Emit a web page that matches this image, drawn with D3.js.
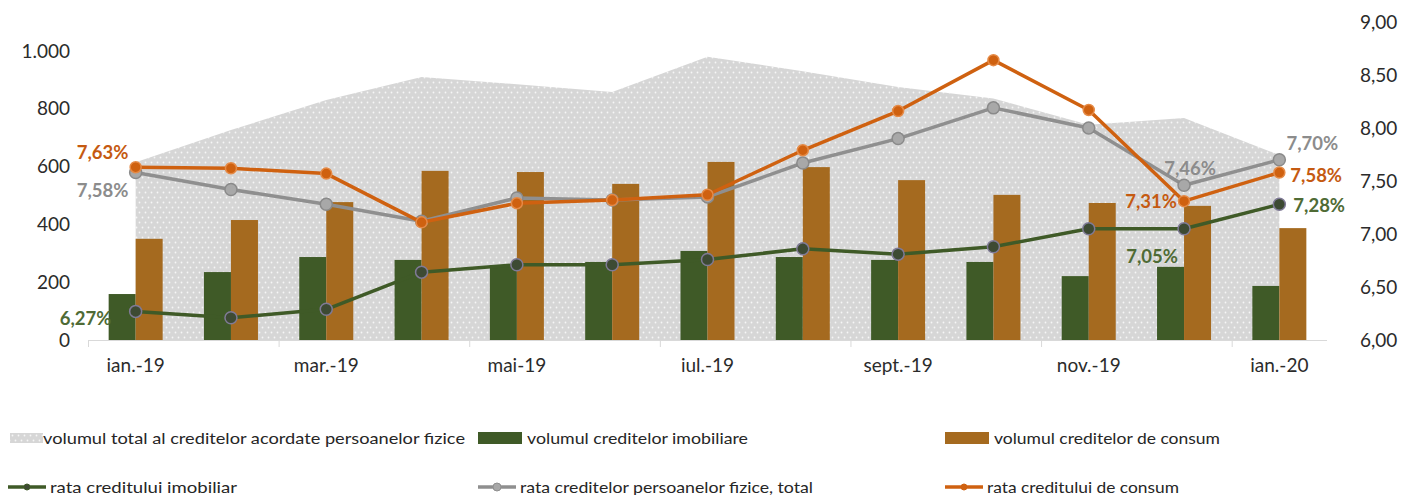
<!DOCTYPE html>
<html>
<head>
<meta charset="utf-8">
<script src="https://cdn.jsdelivr.net/npm/d3@7"></script>
<style>
  body { margin: 0; background: #fff; }
  svg { font-family: Lato, "Open Sans", sans-serif; }
</style>
</head>
<body>
<div id="chart"></div>
<script>
// luni (categorii)
const months = ["ian.-19","feb.-19","mar.-19","apr.-19","mai-19","iun.-19","iul.-19",
                "aug.-19","sept.-19","oct.-19","nov.-19","dec.-19","ian.-20"];

// volume (axa stanga)
const totalVolume    = [615, 726, 830, 910, 885, 858, 980, 930, 875, 835, 745, 768, 640];
const mortgageVolume = [159, 235, 287, 277, 258, 270, 308, 287, 277, 270, 221, 253, 187];
const consumerVolume = [350, 415, 477, 585, 581, 540, 616, 598, 553, 502, 474, 464, 387];

// rate (axa dreapta)
const mortgageRate = [6.27, 6.21, 6.29, 6.64, 6.71, 6.71, 6.76, 6.86, 6.81, 6.88, 7.05, 7.05, 7.28];
const totalRate    = [7.58, 7.42, 7.28, 7.12, 7.34, 7.32, 7.35, 7.67, 7.90, 8.19, 8.00, 7.46, 7.70];
const consumerRate = [7.63, 7.62, 7.57, 7.11, 7.29, 7.32, 7.37, 7.79, 8.16, 8.64, 8.17, 7.31, 7.58];

const leftTicks  = [0, 200, 400, 600, 800, 1000];
const rightTicks = [6, 6.5, 7, 7.5, 8, 8.5, 9];

// etichete de date: serie + index
const dataLabels = [
  {series: "consumer", i: 0},
  {series: "total", i: 0},
  {series: "mortgage", i: 0},
  {series: "total", i: 11},
  {series: "consumer", i: 11},
  {series: "mortgage", i: 11},
  {series: "total", i: 12},
  {series: "consumer", i: 12},
  {series: "mortgage", i: 12}
];

const width = 1409;
const height = 495;

const green = "#3f5a27";
const brown = "#a56a1f";
const orange = "#cf6110";
const grey = "#8f8f8f";

const ro = d3.formatLocale({decimal: ",", thousands: ".", grouping: [3], currency: ["", ""]});

let x = d3.scaleBand()
  .domain(months)
  .range([88, 1327]);

let xc = d => x(d) + x.bandwidth() / 2;

let xSub = d3.scaleBand()
  .domain(["mortgage", "consumer"])
  .range([-27, 27]);

let yLeft = d3.scaleLinear()
  .domain([0, 1100])
  .range([340, 22]);

let yRight = d3.scaleLinear()
  .domain([6, 9])
  .range([340, 22]);

let svg = d3.select("#chart")
  .append("svg")
  .attr("width", width)
  .attr("height", height);

svg.append("rect").attr("width", width).attr("height", height).attr("fill", "#fff");

// model cu puncte pentru aria gri
let defs = svg.append("defs");
let pat = defs.append("pattern")
  .attr("id", "dots")
  .attr("patternUnits", "userSpaceOnUse")
  .attr("width", 6)
  .attr("height", 10);
pat.append("rect").attr("width", 6).attr("height", 10).attr("fill", "#d6d6d6");
pat.append("circle").attr("cx", 1.5).attr("cy", 2.5).attr("r", 0.9).attr("fill", "#f6f6f6");
pat.append("circle").attr("cx", 4.5).attr("cy", 7.5).attr("r", 0.9).attr("fill", "#f6f6f6");

// aria - volumul total
let area = d3.area()
  .x((d, i) => xc(months[i]))
  .y0(yLeft(0))
  .y1(d => yLeft(d));

svg.append("path")
  .datum(totalVolume)
  .attr("d", area)
  .attr("fill", "url(#dots)");

// axa x
svg.append("line")
  .attr("x1", x.range()[0]).attr("x2", x.range()[1])
  .attr("y1", yLeft(0) + 0.5).attr("y2", yLeft(0) + 0.5)
  .attr("stroke", "#d9d9d9");

svg.selectAll("line.xtick")
  .data(months.filter((m, i) => i % 2 == 0)).enter()
  .append("line")
  .attr("class", "xtick")
  .attr("x1", d => x(d) + 0.5).attr("x2", d => x(d) + 0.5)
  .attr("y1", yLeft(0)).attr("y2", yLeft(0) + 7)
  .attr("stroke", "#d9d9d9");

// bare
let bars = svg.append("g");
bars.selectAll("rect.mort")
  .data(mortgageVolume).enter()
  .append("rect")
  .attr("x", (d, i) => xc(months[i]) + xSub("mortgage"))
  .attr("width", xSub.bandwidth())
  .attr("y", d => yLeft(d))
  .attr("height", d => yLeft(0) - yLeft(d))
  .attr("fill", green);

bars.selectAll("rect.cons")
  .data(consumerVolume).enter()
  .append("rect")
  .attr("x", (d, i) => xc(months[i]) + xSub("consumer"))
  .attr("width", xSub.bandwidth())
  .attr("y", d => yLeft(d))
  .attr("height", d => yLeft(0) - yLeft(d))
  .attr("fill", brown);

// linii
let line = d3.line()
  .x((d, i) => xc(months[i]))
  .y(d => yRight(d));

function drawLine(values, color, r, fill, stroke) {
  svg.append("path")
    .datum(values)
    .attr("d", line)
    .attr("fill", "none")
    .attr("stroke", color)
    .attr("stroke-width", 3.5)
    .attr("stroke-linejoin", "round");
  svg.append("g").selectAll("circle")
    .data(values).enter()
    .append("circle")
    .attr("cx", (d, i) => xc(months[i]))
    .attr("cy", d => yRight(d))
    .attr("r", r)
    .attr("fill", fill)
    .attr("stroke", stroke)
    .attr("stroke-width", 1.5);
}

drawLine(totalRate, grey, 6, "#a8a8a8", "#8a8a8a");
drawLine(consumerRate, orange, 5.5, orange, "#e58a46");
drawLine(mortgageRate, green, 6, "#3d4a33", "#7f7a96");

// axe
svg.append("g")
  .attr("transform", "translate(76,0)")
  .call(d3.axisLeft(yLeft).tickValues(leftTicks).tickSize(0).tickPadding(6)
    .tickFormat(ro.format(",")))
  .call(g => g.select(".domain").remove());

svg.append("g")
  .attr("transform", "translate(1354,0)")
  .call(d3.axisRight(yRight).tickValues(rightTicks).tickSize(0).tickPadding(6)
    .tickFormat(ro.format(".2f")))
  .call(g => g.select(".domain").remove());

svg.append("g")
  .attr("transform", `translate(0,${yLeft(0)})`)
  .call(d3.axisBottom(x).tickValues(months.filter((m, i) => i % 2 == 0))
    .tickSize(0).tickPadding(19))
  .call(g => g.select(".domain").remove());

svg.selectAll(".tick text")
  .attr("font-size", 19)
  .attr("font-family", "Lato, sans-serif")
  .attr("fill", "#2b2b2b");

// etichete de date
const seriesInfo = {
  consumer: {values: consumerRate, color: "#c55a11"},
  total:    {values: totalRate, color: "#8c8c8c"},
  mortgage: {values: mortgageRate, color: "#4f6b35"}
};
const labelStyle = {
  "consumer-0":  {dx: -33, dy: -8, anchor: "middle"},
  "total-0":     {dx: -33, dy: 24, anchor: "middle"},
  "mortgage-0":  {dx: -50, dy: 14, anchor: "middle"},
  "total-11":    {dx: 6, dy: -10, anchor: "middle"},
  "consumer-11": {dx: -33, dy: 7, anchor: "middle"},
  "mortgage-11": {dx: -32, dy: 34, anchor: "middle"},
  "total-12":    {dx: 33, dy: -10, anchor: "middle"},
  "consumer-12": {dx: 11, dy: 9, anchor: "start"},
  "mortgage-12": {dx: 14, dy: 8, anchor: "start"}
};

svg.append("g").selectAll("text")
  .data(dataLabels).enter()
  .append("text")
  .attr("x", d => xc(months[d.i]) + labelStyle[d.series + "-" + d.i].dx)
  .attr("y", d => yRight(seriesInfo[d.series].values[d.i]) + labelStyle[d.series + "-" + d.i].dy)
  .attr("text-anchor", d => labelStyle[d.series + "-" + d.i].anchor)
  .attr("font-size", 18.5)
  .attr("font-weight", "bold")
  .attr("fill", d => seriesInfo[d.series].color)
  .text(d => ro.format(".2f")(seriesInfo[d.series].values[d.i]) + "%");

// legenda
const legendItems = [
  {name: "volumul total al creditelor acordate persoanelor fizice", type: "area"},
  {name: "volumul creditelor imobiliare", type: "bar", color: green},
  {name: "volumul creditelor de consum", type: "bar", color: brown},
  {name: "rata creditului imobiliar", type: "line", color: green, mfill: "#3d4a33", r: 3},
  {name: "rata creditelor persoanelor fizice, total", type: "line", color: grey, mfill: "#a8a8a8", r: 4},
  {name: "rata creditului de consum", type: "line", color: orange, mfill: orange, r: 3}
];
const legendX = [8, 478, 945];
const legendY = [438, 487];
const legendW = [422, 221, 226, 187, 293, 192];

let legend = svg.append("g")
  .selectAll("g")
  .data(legendItems).enter()
  .append("g")
  .attr("transform", (d, i) => `translate(${legendX[i % 3]},${legendY[Math.floor(i / 3)]})`);

legend.filter(d => d.type == "area").append("rect")
  .attr("x", 2).attr("y", -5).attr("width", 33).attr("height", 10)
  .attr("fill", "url(#dots)");

legend.filter(d => d.type == "bar").append("rect")
  .attr("x", 0).attr("y", -6).attr("width", 44).attr("height", 12)
  .attr("fill", d => d.color);

legend.filter(d => d.type == "line").append("line")
  .attr("x1", 0).attr("x2", 38).attr("y1", 0).attr("y2", 0)
  .attr("stroke", d => d.color).attr("stroke-width", 3.5);

legend.filter(d => d.type == "line").append("circle")
  .attr("cx", 19).attr("cy", 0).attr("r", d => d.r)
  .attr("fill", d => d.mfill).attr("stroke", d => d.color);

legend.append("text")
  .attr("x", d => d.type == "line" ? 42 : (d.type == "area" ? 35 : 49))
  .attr("y", 5.5)
  .attr("font-size", 15)
  .attr("fill", "#262626")
  .attr("textLength", (d, i) => legendW[i])
  .attr("lengthAdjust", "spacingAndGlyphs")
  .text(d => d.name);
</script>
</body>
</html>
